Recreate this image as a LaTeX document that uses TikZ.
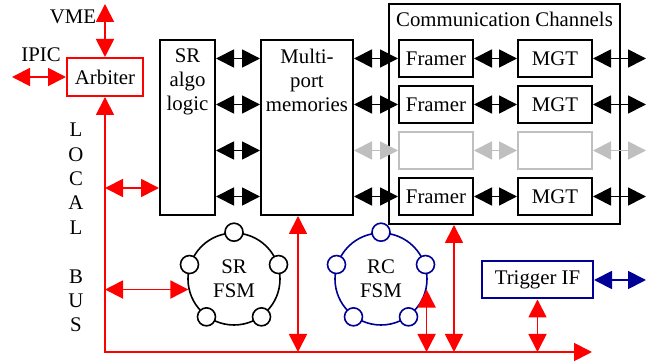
\documentclass[tikz,border=0pt]{standalone}
\usepackage{fontspec}
\setmainfont{Liberation Serif}
\usetikzlibrary{arrows.meta,positioning}
\definecolor{navy}{RGB}{0,0,150}
\tikzset{
    blk/.style={draw, line width=1pt, minimum width=#1, minimum height=18.5pt, inner sep=0pt},
    dbl/.style={{Triangle[length=9pt,width=9pt]}-{Triangle[length=9pt,width=9pt]}, line width=0.9pt},
    fsm/.style={draw, circle, line width=0.8pt, minimum size=46pt, align=center},
    dot/.style={draw, circle, line width=0.8pt, fill=white, minimum size=9pt, inner sep=0pt}
}
\begin{document}
\begin{tikzpicture}[x=0.5pt, y=-0.5pt, font=\fontsize{10.4}{12}\selectfont]
    \useasboundingbox (0,0) rectangle (666,363);
    % arbiter and local bus
    \node[blk=38pt, draw=red, minimum height=19pt] (arb) at (105,77) {Arbiter};
    \node[] (vme) at (73,17) {VME};
    \node[] (ipic) at (41,55) {IPIC};
    \draw[dbl, red] (arb.north) -- ++(0,-53);
    \draw[dbl, red] (arb.west) -- ++(-54,0);
    \coordinate (corner) at (105,352);
    \coordinate (busend) at (592,352);
    \draw[dbl, red] (arb.south) -- (corner) -- (busend);
    \foreach \ch [count=\k] in {L,O,C,A,L,{},B,U,S}
        \node[] at (76,{105.5+24.4*\k}) {\ch};
    % processing blocks
    \node[blk=27.5pt, minimum height=87.5pt] (sra) at (187.5,127.5) {};
    \node[below=1.5pt of sra.north, align=center] {SR\\algo\\logic};
    \node[blk=46pt, minimum height=87.5pt] (mem) at (307,127.5) {};
    \node[below=1.5pt of mem.north, align=center] {Multi-\\port\\memories};
    \node[blk=115.5pt, minimum height=110pt] (cc) at (504.5,114) {};
    \node[below=1pt of cc.north] {Communication Channels};
    % channels
    \foreach \i/\y/\col/\f/\m in {1/58.5/black/Framer/MGT, 2/104.5/black/Framer/MGT, 3/150.5/gray!50/{}/{}, 4/196.5/black/Framer/MGT} {
        \node[blk=37pt, draw=\col] (fr\i) at (436,\y) {\f};
        \node[blk=37pt, draw=\col] (mg\i) at (555,\y) {\m};
        \draw[dbl] (sra.east |- fr\i) -- (mem.west |- fr\i);
        \draw[dbl, \col] (mem.east |- fr\i) -- (fr\i.west);
        \draw[dbl, \col] (fr\i.east) -- (mg\i.west);
        \draw[dbl, \col] (mg\i.east) -- ++(53,0);
    }
    % state machines
    \node[fsm] (srfsm) at (234,279) {SR\\FSM};
    \node[fsm, draw=navy] (rcfsm) at (381,279) {RC\\FSM};
    \foreach \a in {90,162,234,306,18} {
        \node[dot] at (srfsm.\a) {};
        \node[dot, draw=navy] at (rcfsm.\a) {};
    }
    \node[blk=55.5pt, draw=navy] (trig) at (537.5,280) {Trigger IF};
    \draw[dbl, navy] (trig.east) -- ++(52,0);
    % bus connections
    \draw[dbl, red] ([yshift=-30.25pt]sra.west) -- ([yshift=-30.25pt]sra.west -| corner);
    \draw[dbl, red] (srfsm.193) -- (srfsm.193 -| corner);
    \draw[dbl, red] ([xshift=-4.5pt]mem.south) -- ([xshift=-4.5pt]mem.south |- corner);
    \draw[dbl, red] (rcfsm.-13) -- (rcfsm.-13 |- corner);
    \draw[dbl, red] ([xshift=-25.25pt]cc.south) -- ([xshift=-25.25pt]cc.south |- corner);
    \draw[dbl, red] (trig.south) -- (trig.south |- corner);
\end{tikzpicture}
\end{document}
